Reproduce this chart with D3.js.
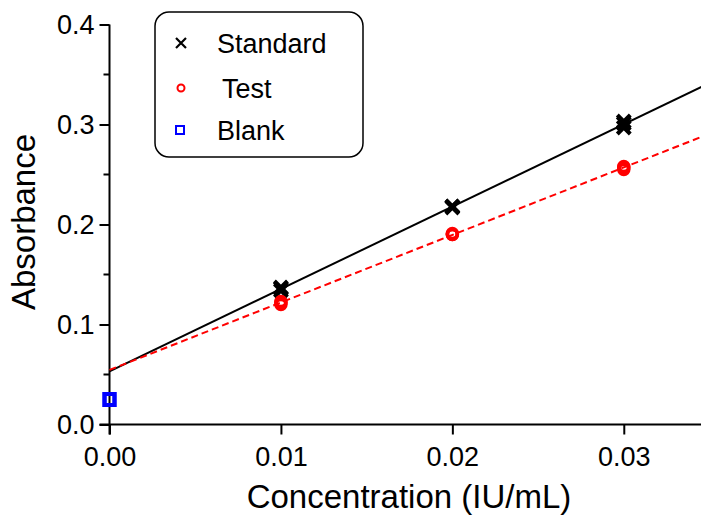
<!DOCTYPE html>
<html>
<head>
<meta charset="utf-8">
<script src="https://cdn.jsdelivr.net/npm/d3@7"></script>
<style>
  html, body { margin: 0; padding: 0; background: #fff; }
  svg { display: block; font-family: "Liberation Sans", Arial, sans-serif; }
</style>
</head>
<body>
<svg id="chart" width="701" height="516"></svg>
<script>
// Replicate absorbance readings per concentration (IU/mL)
const standardConc = [0.01, 0.01, 0.01, 0.02, 0.02, 0.02, 0.03, 0.03, 0.03];
const standardAbs  = [0.134, 0.137, 0.136, 0.217, 0.218, 0.218, 0.297, 0.301, 0.303];
const testConc     = [0.01, 0.01, 0.01, 0.02, 0.02, 0.02, 0.03, 0.03, 0.03];
const testAbs      = [0.120, 0.123, 0.122, 0.190, 0.190, 0.191, 0.255, 0.257, 0.258];
const blankConc    = [0, 0];
const blankAbs     = [0.025, 0.025];

const xTicks = [0, 0.01, 0.02, 0.03];
const yTicks = [0, 0.1, 0.2, 0.3, 0.4];
const yMinorTicks = [0.05, 0.15, 0.25, 0.35];
const legendLabels = ["Standard", "Test", "Blank"];

const svg = d3.select("#chart");
const x = d3.scaleLinear().domain([0, 0.035]).range([109.5, 709.5]);
const y = d3.scaleLinear().domain([0, 0.4]).range([424.5, 24.5]);

// least-squares fit
function fit(xs, ys) {
  const mx = d3.mean(xs), my = d3.mean(ys);
  let sxy = 0, sxx = 0;
  xs.forEach((v, i) => { sxy += (v - mx) * (ys[i] - my); sxx += (v - mx) * (v - mx); });
  const slope = sxy / sxx;
  return { slope, intercept: my - slope * mx };
}
const fitStd = fit(standardConc, standardAbs);
const fitTest = fit(testConc, testAbs);

// axes
const yAxis = d3.axisLeft(y).tickValues(yTicks).tickFormat(d3.format(".1f")).tickSize(10).tickPadding(5);
const gy = svg.append("g").attr("transform", `translate(${x(0)},0)`).call(yAxis);
gy.selectAll(".tick text").attr("font-size", 27).attr("font-family", "Liberation Sans, Arial, sans-serif").attr("fill", "#000");
gy.selectAll("line, path").attr("stroke", "#000").attr("stroke-width", 2);
gy.select(".domain").attr("d", `M0,${y(0.4)}V${y(0) + 10}`);

svg.append("g").selectAll("line").data(yMinorTicks).join("line")
  .attr("x1", x(0) - 6).attr("x2", x(0))
  .attr("y1", d => y(d)).attr("y2", d => y(d))
  .attr("stroke", "#000").attr("stroke-width", 2);

const xAxis = d3.axisBottom(x).tickValues(xTicks).tickFormat(d3.format(".2f")).tickSize(10).tickPadding(12);
const gx = svg.append("g").attr("transform", `translate(0,${y(0)})`).call(xAxis);
gx.selectAll(".tick text").attr("font-size", 27).attr("font-family", "Liberation Sans, Arial, sans-serif").attr("fill", "#000");
gx.selectAll("line, path").attr("stroke", "#000").attr("stroke-width", 2);
gx.select(".domain").attr("d", `M${x(0) - 10},0H701`);

// axis titles
svg.append("text").attr("x", 409).attr("y", 508).attr("text-anchor", "middle")
  .attr("font-size", 33).text("Concentration (IU/mL)");
svg.append("text").attr("transform", "translate(35,222) rotate(-90)").attr("text-anchor", "middle")
  .attr("font-size", 33).text("Absorbance");

// fit lines
const xEnd = x.domain()[1];
svg.append("line")
  .attr("x1", x(0)).attr("y1", y(fitStd.intercept))
  .attr("x2", x(xEnd)).attr("y2", y(fitStd.intercept + fitStd.slope * xEnd))
  .attr("stroke", "#000").attr("stroke-width", 2);
svg.append("line")
  .attr("x1", x(0)).attr("y1", y(fitTest.intercept))
  .attr("x2", x(xEnd)).attr("y2", y(fitTest.intercept + fitTest.slope * xEnd))
  .attr("stroke", "#ff0000").attr("stroke-width", 2).attr("stroke-dasharray", "7,4");

// markers
const cross = (g, s, w) => g.append("path").attr("d", `M${-s},${-s}L${s},${s}M${-s},${s}L${s},${-s}`)
  .attr("stroke", "#000").attr("stroke-width", w).attr("fill", "none");

standardConc.forEach((c, i) => {
  const g = svg.append("g").attr("transform", `translate(${x(c)},${y(standardAbs[i])})`);
  cross(g, 6.5, 4);
});
svg.append("g").selectAll("circle").data(testConc).join("circle")
  .attr("cx", d => x(d)).attr("cy", (d, i) => y(testAbs[i])).attr("r", 5)
  .attr("fill", "none").attr("stroke", "#ff0000").attr("stroke-width", 3.5);
svg.append("g").selectAll("rect").data(blankConc).join("rect")
  .attr("x", d => x(d) - 5).attr("y", (d, i) => y(blankAbs[i]) - 5.5).attr("width", 10).attr("height", 11)
  .attr("fill", "none").attr("stroke", "#0000ff").attr("stroke-width", 4);

// legend
const lg = svg.append("g");
lg.append("rect").attr("x", 155).attr("y", 12).attr("width", 208).attr("height", 145)
  .attr("rx", 14).attr("fill", "#fff").attr("stroke", "#000").attr("stroke-width", 1.5);
const rows = [43, 88, 130];
cross(lg.append("g").attr("transform", `translate(181,${rows[0]})`), 5, 2.2);
lg.append("circle").attr("cx", 181).attr("cy", rows[1]).attr("r", 3.5)
  .attr("fill", "none").attr("stroke", "#ff0000").attr("stroke-width", 2);
lg.append("rect").attr("x", 176).attr("y", rows[2] - 4).attr("width", 8).attr("height", 8)
  .attr("fill", "none").attr("stroke", "#0000ff").attr("stroke-width", 2);
lg.selectAll("text").data(legendLabels).join("text")
  .attr("x", (d, i) => i === 1 ? 222 : 217).attr("y", (d, i) => rows[i] + 9.5)
  .attr("font-size", 27).text(d => d);
</script>
</body>
</html>
